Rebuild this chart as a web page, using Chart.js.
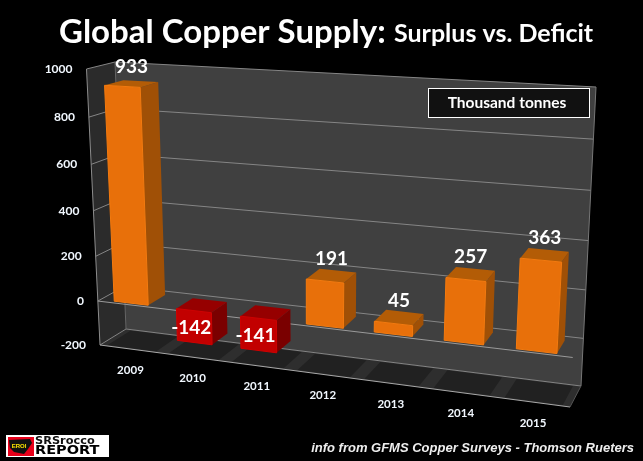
<!DOCTYPE html>
<html>
<head>
<meta charset="utf-8">
<style>
html, body { margin: 0; padding: 0; background: #000; }
canvas { display: block; }
</style>
<script src="https://cdn.jsdelivr.net/npm/chart.js@4"></script>
</head>
<body>
<canvas id="myChart" width="643" height="461"></canvas>
<script>
const years = ['2009', '2010', '2011', '2012', '2013', '2014', '2015']
const balance = [933, -142, -141, 191, 45, 257, 363]
const yMin = -200
const yMax = 1000
const yStep = 200

// corners of the 3d box on screen, [x, y]
const frontBL = [100, 345], frontTL = [86.5, 69], frontBR = [570, 407], frontTR = [587, 96]
const backBL = [126, 329], backTL = [115, 62], backBR = [581, 386], backTR = [596, 87]
const barFront = 0.1
const barBack = 0.78

function lerp(a, b, t) { return a + (b - a) * t }

// u along categories, s up the value axis, w front to back, all 0..1
function project(u, s, w) {
    const uu = u / (1.11 - 0.11 * u)
    const ss = s / (1.056 - 0.056 * s)
    const out = []
    for (const i of [0, 1]) {
        const fl = lerp(frontBL[i], frontTL[i], ss)
        const fr = lerp(frontBR[i], frontTR[i], ss)
        const bl = lerp(backBL[i], backTL[i], ss)
        const br = lerp(backBR[i], backTR[i], ss)
        out.push(lerp(lerp(fl, fr, uu), lerp(bl, br, uu), w))
    }
    return out
}

function poly(ctx, pts, fill, stroke) {
    ctx.beginPath()
    pts.forEach((p, i) => i ? ctx.lineTo(p[0], p[1]) : ctx.moveTo(p[0], p[1]))
    ctx.closePath()
    if (fill) { ctx.fillStyle = fill; ctx.fill() }
    if (stroke) { ctx.strokeStyle = stroke; ctx.lineWidth = 1; ctx.stroke() }
}

function line(ctx, a, b, color) {
    ctx.beginPath()
    ctx.moveTo(a[0], a[1])
    ctx.lineTo(b[0], b[1])
    ctx.strokeStyle = color
    ctx.lineWidth = 1
    ctx.stroke()
}

function text(ctx, str, x, y, font, align, color) {
    ctx.font = font
    ctx.textAlign = align || 'left'
    ctx.textBaseline = 'middle'
    ctx.fillStyle = color || '#fff'
    ctx.fillText(str, x, y)
}

// logo lettering is stretched sideways
function wideText(ctx, str, x, y, font, stretch, color) {
    ctx.save()
    ctx.translate(x, y)
    ctx.scale(stretch, 1)
    text(ctx, str, 0, 0, font, 'left', color)
    ctx.restore()
}

const box3d = {
    id: 'box3d',
    beforeDraw(chart) {
        const ctx = chart.ctx
        const area = chart.chartArea
        const sOf = py => (area.bottom - py) / (area.bottom - area.top)
        const meta = chart.getDatasetMeta(0)
        const yScale = chart.scales.y
        const s0 = sOf(yScale.getPixelForValue(0))

        ctx.save()
        ctx.fillStyle = '#000'
        ctx.fillRect(0, 0, chart.width, chart.height)

        // walls and floor
        poly(ctx, [project(0, 0, 1), project(0, 1, 1), project(1, 1, 1), project(1, 0, 1)], '#404040')
        poly(ctx, [project(0, 0, 0), project(0, 1, 0), project(0, 1, 1), project(0, 0, 1)], '#2b2b2b')
        poly(ctx, [project(0, 0, 0), project(1, 0, 0), project(1, 0, 1), project(0, 0, 1)], '#2e2e2e')

        // bar shadows on the floor
        meta.data.forEach(bar => {
            const u0 = (bar.x - bar.width * 0.72 - area.left) / area.width
            const u1 = (bar.x + bar.width * 0.72 - area.left) / area.width
            poly(ctx, [project(u0, 0, 0.05), project(u1, 0, 0.05), project(u1, 0, 0.95), project(u0, 0, 0.95)], '#212121')
        })

        // gridlines on back and side wall
        yScale.ticks.forEach(t => {
            const s = sOf(yScale.getPixelForValue(t.value))
            line(ctx, project(0, s, 1), project(1, s, 1), '#858585')
            line(ctx, project(0, s, 0), project(0, s, 1), '#858585')
            text(ctx, String(t.value), project(0, s, 0)[0] - 14, project(0, s, 0)[1], 'bold 12px Lato', 'right', '#f2f8ff')
        })
        line(ctx, project(0, 0, 0), project(0, 1, 0), '#8c8c8c')
        line(ctx, project(0, 1, 1), project(0, 0, 1), '#666')
        line(ctx, project(1, 1, 1), project(1, 0, 1), '#777')
        line(ctx, project(0, 0, 0), project(1, 0, 0), '#a8a8a8')
        line(ctx, project(1, 0, 0), project(1, 0, 1), '#555')
        line(ctx, project(0, s0, 0), project(1, s0, 0), '#9a9a9a')
        ctx.restore()
    },
    // bars come from the library's elements, only the cuboid drawing is ours
    beforeDatasetDraw(chart, args) {
        const ctx = chart.ctx
        const area = chart.chartArea
        const uOf = px => (px - area.left) / area.width
        const sOf = py => (area.bottom - py) / (area.bottom - area.top)
        const meta = chart.getDatasetMeta(args.index)
        ctx.save()
        meta.data.forEach((bar, i) => {
            const neg = balance[i] < 0
            const u0 = uOf(bar.x - bar.width / 2)
            const u1 = uOf(bar.x + bar.width / 2)
            const sTop = sOf(Math.min(bar.y, bar.base))
            const sBot = sOf(Math.max(bar.y, bar.base))
            const f = barFront, b = barBack
            const front = bar.options.backgroundColor
            const side = neg ? '#7a0000' : '#a05006'
            const top = neg ? '#960000' : '#b35c06'
            const edge = neg ? '#d00000' : '#f47a0e'
            poly(ctx, [project(u1, sBot, f), project(u1, sTop, f), project(u1, sTop, b), project(u1, sBot, b)], side)
            poly(ctx, [project(u0, sTop, f), project(u1, sTop, f), project(u1, sTop, b), project(u0, sTop, b)], top)
            poly(ctx, [project(u0, sBot, f), project(u0, sTop, f), project(u1, sTop, f), project(u1, sBot, f)], front, edge)
        })
        ctx.restore()
        return false
    },
    afterDraw(chart) {
        const ctx = chart.ctx
        const area = chart.chartArea
        const uOf = px => (px - area.left) / area.width
        const sOf = py => (area.bottom - py) / (area.bottom - area.top)
        const meta = chart.getDatasetMeta(0)
        ctx.save()

        // value labels and year labels
        meta.data.forEach((bar, i) => {
            const u = uOf(bar.x)
            const floor = project(u, 0, 0)
            text(ctx, years[i], floor[0], floor[1] + 21, 'bold 11.5px Lato', 'center', '#f2f8ff')
            if (balance[i] < 0) {
                const p = project(u, (sOf(bar.y) + sOf(bar.base)) / 2, barFront)
                text(ctx, String(balance[i]), p[0] - 3, p[1] + 1, 'bold 19px Lato', 'center')
            } else {
                const p = project(u, sOf(bar.y), 0.44)
                text(ctx, String(balance[i]), p[0], p[1] - 17, 'bold 19px Lato', 'center')
            }
        })

        // title
        text(ctx, 'Global Copper Supply:', 59, 32, 'bold 33px Lato')
        text(ctx, 'Surplus vs. Deficit', 394, 34, 'bold 25px Lato')

        // unit box
        ctx.fillStyle = '#111'
        ctx.fillRect(428.5, 88.5, 161, 29)
        ctx.strokeStyle = '#fff'
        ctx.lineWidth = 1
        ctx.strokeRect(428.5, 88.5, 161, 29)
        text(ctx, 'Thousand tonnes', 507, 103, 'bold 15.5px Lato', 'center')

        // source note
        text(ctx, 'info from GFMS Copper Surveys - Thomson Rueters', 634, 448, 'italic bold 13px "Liberation Sans"', 'right', '#eee')

        // logo
        ctx.fillStyle = '#fff'
        ctx.fillRect(6, 435, 103, 22)
        ctx.fillStyle = '#e8001a'
        ctx.fillRect(8, 437, 26, 19)
        poly(ctx, [[9, 440], [30, 439], [32, 443], [28, 449], [24, 454], [14, 452], [10, 448]], '#111')
        text(ctx, 'EROI', 19, 446, 'bold 6px "Liberation Sans"', 'center', '#ffe600')
        wideText(ctx, 'SRSrocco', 35, 441, 'bold 10.5px "DejaVu Sans"', 1.08, '#111')
        wideText(ctx, 'REPORT', 35, 451, 'bold 12.5px "DejaVu Sans"', 1.16, '#000')
        ctx.restore()
    }
}

new Chart(document.getElementById('myChart'), {
    type: 'bar',
    data: {
        labels: years,
        datasets: [{
            label: 'Thousand tonnes',
            data: balance,
            backgroundColor: c => c.raw < 0 ? '#c20000' : '#e8700a',
            categoryPercentage: 1,
            barPercentage: 0.55
        }]
    },
    plugins: [box3d],
    options: {
        responsive: false,
        animation: false,
        events: [],
        plugins: {
            legend: { display: false },
            tooltip: { enabled: false }
        },
        scales: {
            x: { display: false },
            y: {
                display: false,
                min: yMin,
                max: yMax,
                ticks: { stepSize: yStep }
            }
        }
    }
});
</script>
</body>
</html>
